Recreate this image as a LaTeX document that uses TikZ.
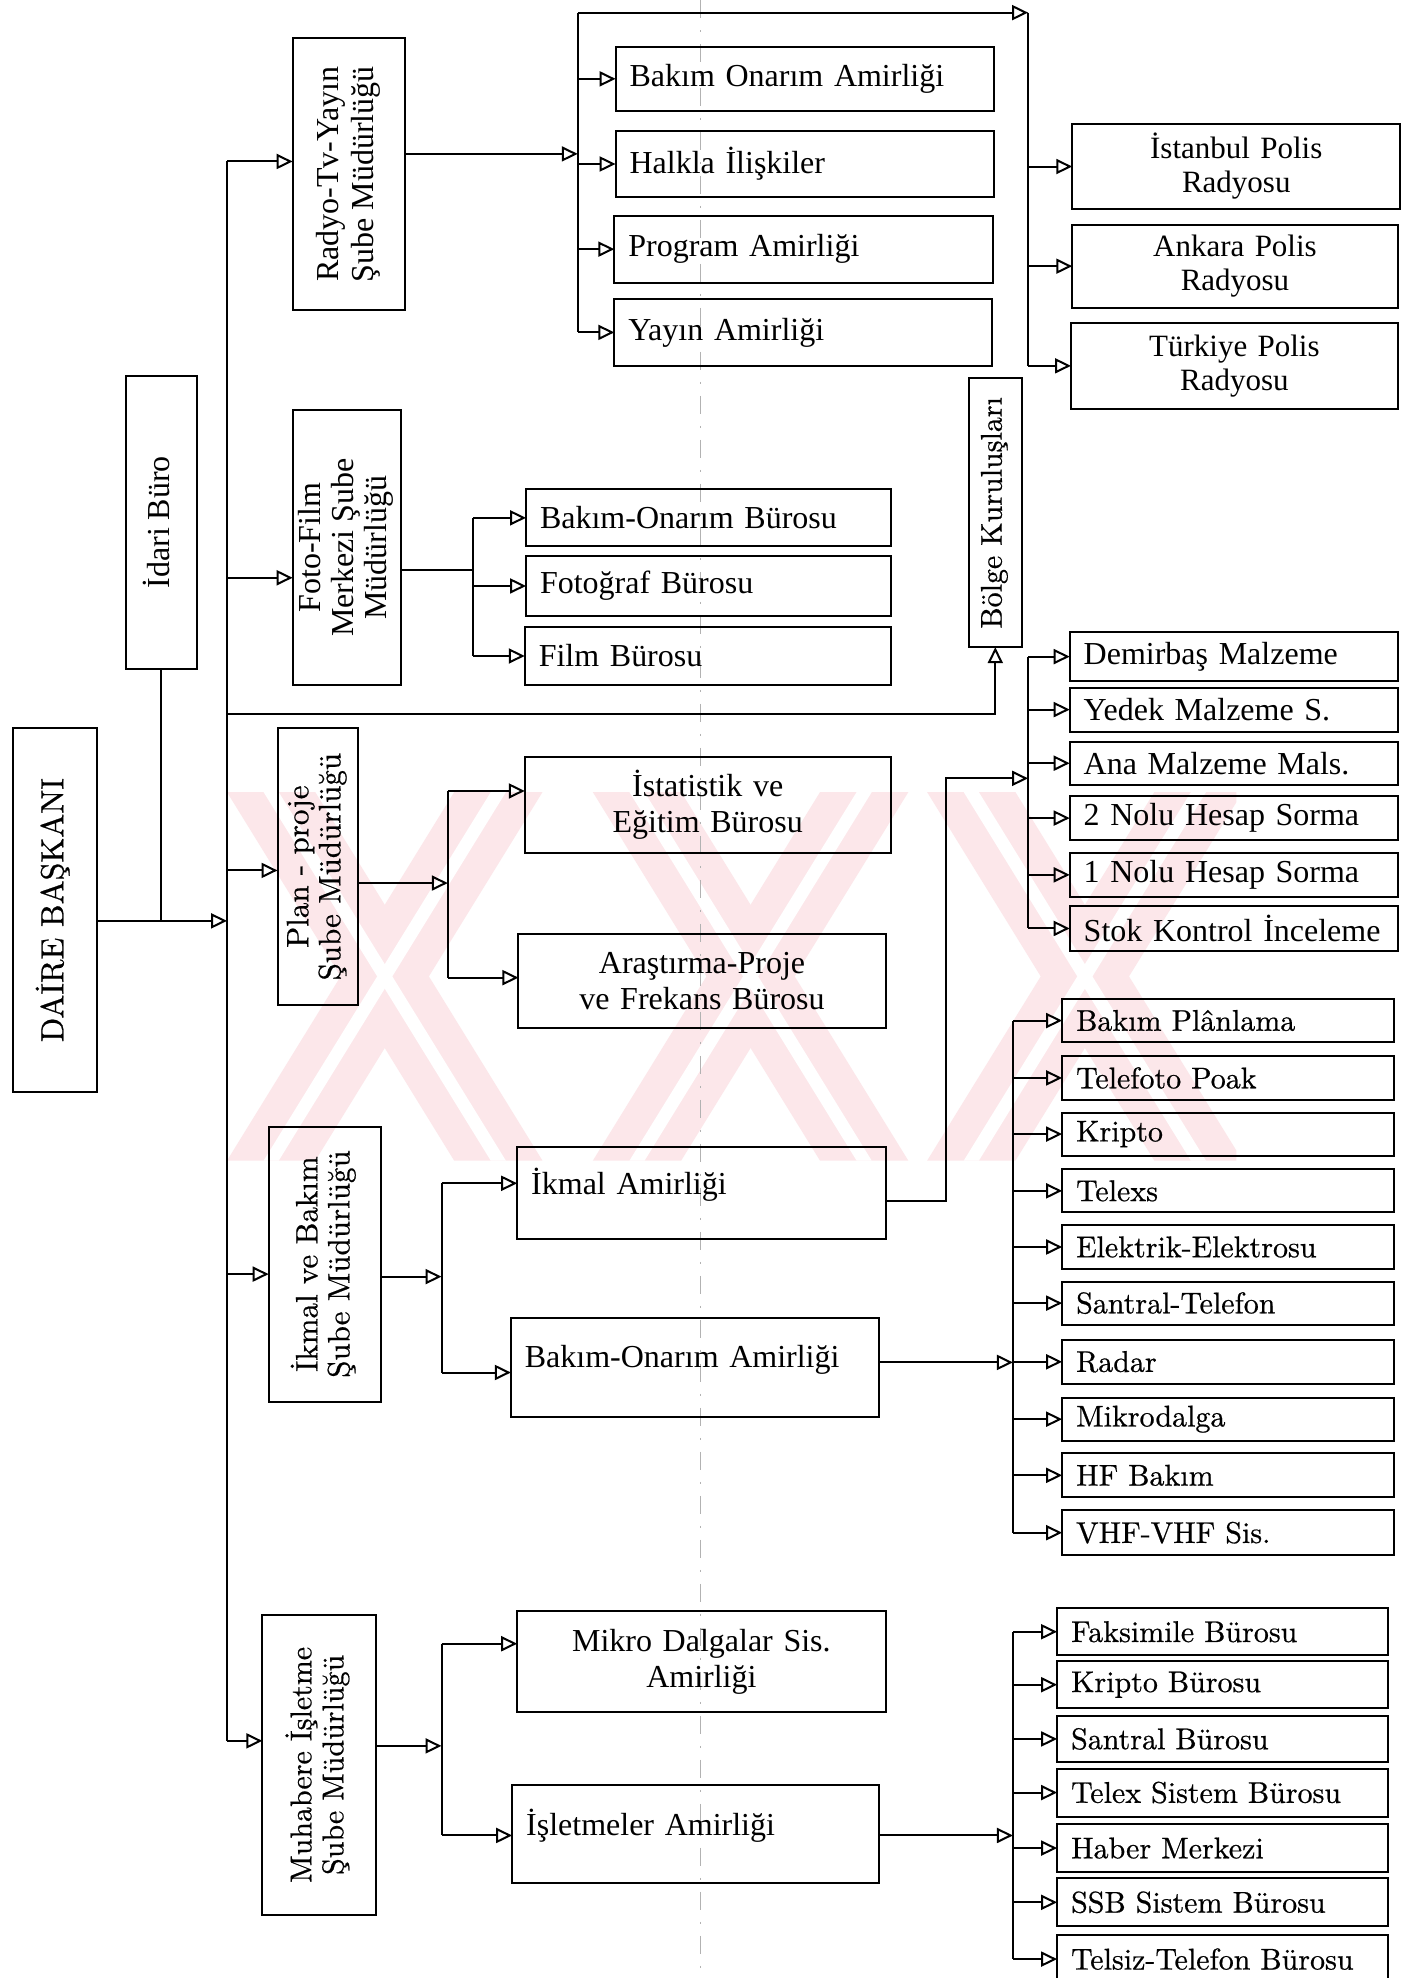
\documentclass[tikz,border=0pt]{standalone}
\usepackage{fontspec}
\usepackage{graphicx}
\newfontfamily\tms{Liberation Serif}
\newfontfamily\lmd{lmroman10-regular.otf}[FakeBold=0.6]
\usetikzlibrary{arrows.meta}
\definecolor{wm}{RGB}{252,231,234}
\newcommand\U{0.6308}
% horizontal box: [style]{name}{x1}{y1}{x2}{y2}{text}
\newcommand\abox[7][]{%
  \pgfmathsetmacro\bw{(#5-#3)*\U}\pgfmathsetmacro\bh{(#6-#4)*\U}\pgfmathsetmacro\tw{\bw-14}%
  \node[box,text width=\tw pt,minimum width=\bw pt,minimum height=\bh pt,#1] (#2) at ({(#3+#5)/2},{(#4+#6)/2}) {#7};}
% box with text turned upright
\newcommand\rbox[7][]{%
  \pgfmathsetmacro\bw{(#5-#3)*\U}\pgfmathsetmacro\bh{(#6-#4)*\U}%
  \node[box,inner xsep=0pt,minimum width=\bw pt,minimum height=\bh pt,#1] (#2) at ({(#3+#5)/2},{(#4+#6)/2}) {\rotatebox{90}{\begin{tabular}{@{}c@{}}#7\end{tabular}}};}
\newcommand\up[1]{\raisebox{4pt}[\height][\depth]{#1}}
\tikzset{
  box/.style={draw, inner xsep=7pt, inner ysep=0pt, outer sep=0pt, align=left,
    font=\tms\fontsize{16}{18}\selectfont},
  ctr/.style={align=center},
  wide/.style={font=\lmd\fontsize{15}{17}\selectfont},
  widev/.style={font=\lmd\fontsize{15.5}{16}\selectfont},
  arr/.style={-{Triangle[open,length=8pt,width=7.5pt]}},
  fold/.style={black!30, line width=0.45pt, dash pattern=on 9pt off 6pt on 1pt off 6pt},
  band/.style={fill=wm},
  gap/.style={fill=white}
}
\begin{document}
\begin{tikzpicture}[x=0.6308pt,y=-0.6308pt,line width=1pt]
\useasboundingbox (0,0) rectangle (1120,1568);
\fill[white] (0,0) rectangle (1120,1568);

% watermark: three striped crosses
\begin{scope}
  \clip (178,628) rectangle (980,920);
  \foreach \cx in {305,595,860} {
    \fill[band] ({\cx-125},628) -- ({\cx-55},628) -- ({\cx+125},920) -- ({\cx+55},920) -- cycle;
    \fill[band] ({\cx+55},628) -- ({\cx+125},628) -- ({\cx-55},920) -- ({\cx-125},920) -- cycle;
    \fill[gap] ({\cx-96},628) -- ({\cx-84},628) -- ({\cx+96},920) -- ({\cx+84},920) -- cycle;
    \fill[gap] ({\cx+84},628) -- ({\cx+96},628) -- ({\cx-84},920) -- ({\cx-96},920) -- cycle;
  }
\end{scope}

% fold crease
\draw[fold] (555,0) -- (555,1568);

% ---------- boxes ----------
\rbox[font=\lmd\fontsize{16}{18}\selectfont]{daire}{10}{577}{77}{866}{DAİRE BAŞKANI}
\rbox{idari}{100}{298}{156}{530}{İdari Büro}
\rbox{radyo}{232}{30}{321}{246}{Radyo-Tv-Yayın\\Şube Müdürlüğü}
\rbox[font=\tms\fontsize{16}{16.5}\selectfont]{foto}{232}{325}{318}{543}{Foto-Film\\Merkezi Şube\\Müdürlüğü}
\rbox[widev]{plan}{220}{577}{284}{797}{Plan - proje\\Şube Müdürlüğü}
\rbox[widev]{ikmalb}{213}{893}{302}{1111}{İkmal ve Bakım\\Şube Müdürlüğü}
\rbox[font=\lmd\fontsize{15}{16}\selectfont]{muh}{208}{1280}{298}{1518}{Muhabere İşletme\\Şube Müdürlüğü}
\rbox[font=\lmd\fontsize{15}{16}\selectfont]{bolge}{768}{300}{810}{513}{Bölge Kuruluşları}

\abox{bakimA}{488}{37}{788}{88}{Bakım Onarım Amirliği}
\abox{halkla}{488}{104}{788}{156}{Halkla İlişkiler}
\abox{program}{487}{171}{787}{224}{Program Amirliği}
\abox{yayin}{487}{237}{786}{290}{Yayın Amirliği}

\abox[ctr,font=\tms\fontsize{15.5}{17}\selectfont]{istanbul}{850}{98}{1110}{166}{İstanbul Polis\\Radyosu}
\abox[ctr,font=\tms\fontsize{15.5}{17}\selectfont]{ankara}{850}{178}{1108}{244}{Ankara Polis\\Radyosu}
\abox[ctr,font=\tms\fontsize{15.5}{17}\selectfont]{turkiye}{849}{256}{1108}{324}{Türkiye Polis\\Radyosu}

\abox{bakimB}{417}{388}{706}{433}{Bakım-Onarım Bürosu}
\abox{fotograf}{417}{441}{706}{488}{Fotoğraf Bürosu}
\abox{film}{416}{497}{706}{543}{Film Bürosu}

\abox[ctr]{istat}{416}{600}{706}{676}{İstatistik ve\\Eğitim Bürosu}
\abox[ctr]{aras}{411}{740}{702}{815}{Araştırma-Proje\\ve Frekans Bürosu}

\abox[inner xsep=6pt]{demir}{848}{501}{1108}{540}{Demirbaş Malzeme}
\abox[inner xsep=6pt]{yedek}{848}{545}{1108}{580}{Yedek Malzeme S.}
\abox[inner xsep=6pt]{ana}{848}{588}{1108}{622}{Ana Malzeme Mals.}
\abox[inner xsep=6pt]{nolu2}{848}{631}{1108}{666}{2 Nolu Hesap Sorma}
\abox[inner xsep=6pt]{nolu1}{848}{676}{1108}{711}{1 Nolu Hesap Sorma}
\abox[inner xsep=6pt]{stok}{848}{718}{1108}{754}{Stok Kontrol İnceleme}

\abox{ikmalA}{410}{909}{702}{982}{\up{İkmal Amirliği}}
\abox{bakimO}{405}{1045}{697}{1123}{\up{Bakım-Onarım Amirliği}}

\abox[wide]{bplan}{842}{792}{1105}{826}{Bakım Plânlama}
\abox[wide]{tele}{842}{837}{1105}{872}{Telefoto Poak}
\abox[wide]{kripto}{842}{882}{1105}{916}{Kripto}
\abox[wide]{telexs}{842}{927}{1105}{961}{Telexs}
\abox[wide]{elek}{842}{971}{1105}{1006}{Elektrik-Elektrosu}
\abox[wide]{santel}{842}{1016}{1105}{1050}{Santral-Telefon}
\abox[wide]{radar}{842}{1062}{1105}{1097}{Radar}
\abox[wide]{mikro}{842}{1108}{1105}{1142}{Mikrodalga}
\abox[wide]{hf}{842}{1152}{1105}{1187}{HF Bakım}
\abox[wide]{vhf}{842}{1197}{1105}{1233}{VHF-VHF Sis.}

\abox[ctr]{mdalga}{410}{1277}{702}{1357}{Mikro Dalgalar Sis.\\Amirliği}
\abox{islet}{406}{1415}{697}{1493}{\up{İşletmeler Amirliği}}

\abox[wide]{faks}{838}{1275}{1100}{1312}{Faksimile Bürosu}
\abox[wide]{kriptoB}{838}{1317}{1100}{1354}{Kripto Bürosu}
\abox[wide]{santralB}{838}{1360}{1100}{1397}{Santral Bürosu}
\abox[wide]{telex}{838}{1402}{1100}{1440}{Telex Sistem Bürosu}
\abox[wide]{haber}{838}{1446}{1100}{1484}{Haber Merkezi}
\abox[wide]{ssb}{838}{1489}{1100}{1527}{SSB Sistem Bürosu}
\abox[wide]{telsiz}{838}{1534}{1100}{1572}{Telsiz-Telefon Bürosu}

% ---------- main trunk ----------
\coordinate (m0) at (180,128);
\coordinate (m1) at (180,458);
\coordinate (m2) at (180,566);
\coordinate (m3) at (180,690);
\coordinate (m4) at (180,730);
\coordinate (m5) at (180,1010);
\coordinate (m6) at (180,1380);
\draw (m0) -- (m6);
\draw[arr] (m0) -- (m0 -| radyo.west);
\draw[arr] (m1) -- (m1 -| foto.west);
\draw[arr] (m3) -- (m3 -| plan.west);
\draw[arr] (m5) -- (m5 -| ikmalb.west);
\draw[arr] (m6) -- (m6 -| muh.west);
\draw[arr] (m2) -- (m2 -| bolge.south) -- (bolge.south);
\draw[arr] (m4 -| daire.east) -- (m4);
\draw (idari.south) -- (idari.south |- m4);

% ---------- radio branch ----------
\coordinate (r0) at (458,10);
\coordinate (r1) at (458,122);
\draw[arr] (r1 -| radyo.east) -- (r1);
\draw (r0) -- (r0 |- yayin.west);
\foreach \b in {bakimA,halkla,program,yayin}
  \draw[arr] (r0 |- \b.west) -- (\b.west);
\coordinate (p0) at (815,10);
\draw[arr] (r0) -- (p0);
\draw (p0) -- (p0 |- turkiye.west);
\foreach \b in {istanbul,ankara,turkiye}
  \draw[arr] (p0 |- \b.west) -- (\b.west);

% ---------- photo-film branch ----------
\coordinate (f0) at (375,452);
\draw (f0 -| foto.east) -- (f0);
\draw (f0 |- bakimB.west) -- (f0 |- film.west);
\foreach \b in {bakimB,fotograf,film}
  \draw[arr] (f0 |- \b.west) -- (\b.west);

% ---------- plan branch ----------
\coordinate (q0) at (355,700);
\coordinate (q1) at (355,627);
\coordinate (q2) at (355,775);
\draw[arr] (q0 -| plan.east) -- (q0);
\draw (q1) -- (q2);
\draw[arr] (q1) -- (q1 -| istat.west);
\draw[arr] (q2) -- (q2 -| aras.west);

% ---------- supply branch ----------
\coordinate (i0) at (350,1012);
\coordinate (i1) at (350,938);
\coordinate (i2) at (350,1088);
\draw[arr] (i0 -| ikmalb.east) -- (i0);
\draw (i1) -- (i2);
\draw[arr] (i1) -- (i1 -| ikmalA.west);
\draw[arr] (i2) -- (i2 -| bakimO.west);

\coordinate (d0) at (815,617);
\coordinate (k1) at (750,952);
\coordinate (k2) at (750,617);
\draw[arr] (k1 -| ikmalA.east) -- (k1) -- (k2) -- (d0);
\draw (d0 |- demir.west) -- (d0 |- stok.west);
\foreach \b in {demir,yedek,ana,nolu2,nolu1,stok}
  \draw[arr] (d0 |- \b.west) -- (\b.west);

\coordinate (b0) at (803,1080);
\draw[arr] (b0 -| bakimO.east) -- (b0);
\draw (b0 |- bplan.west) -- (b0 |- vhf.west);
\foreach \b in {bplan,tele,kripto,telexs,elek,santel,radar,mikro,hf,vhf}
  \draw[arr] (b0 |- \b.west) -- (\b.west);

% ---------- communications branch ----------
\coordinate (u0) at (350,1384);
\coordinate (u1) at (350,1303);
\coordinate (u2) at (350,1455);
\draw[arr] (u0 -| muh.east) -- (u0);
\draw (u1) -- (u2);
\draw[arr] (u1) -- (u1 -| mdalga.west);
\draw[arr] (u2) -- (u2 -| islet.west);

\coordinate (s0) at (803,1455);
\draw[arr] (s0 -| islet.east) -- (s0);
\draw (s0 |- faks.west) -- (s0 |- telsiz.west);
\foreach \b in {faks,kriptoB,santralB,telex,haber,ssb,telsiz}
  \draw[arr] (s0 |- \b.west) -- (\b.west);
\end{tikzpicture}
\end{document}
